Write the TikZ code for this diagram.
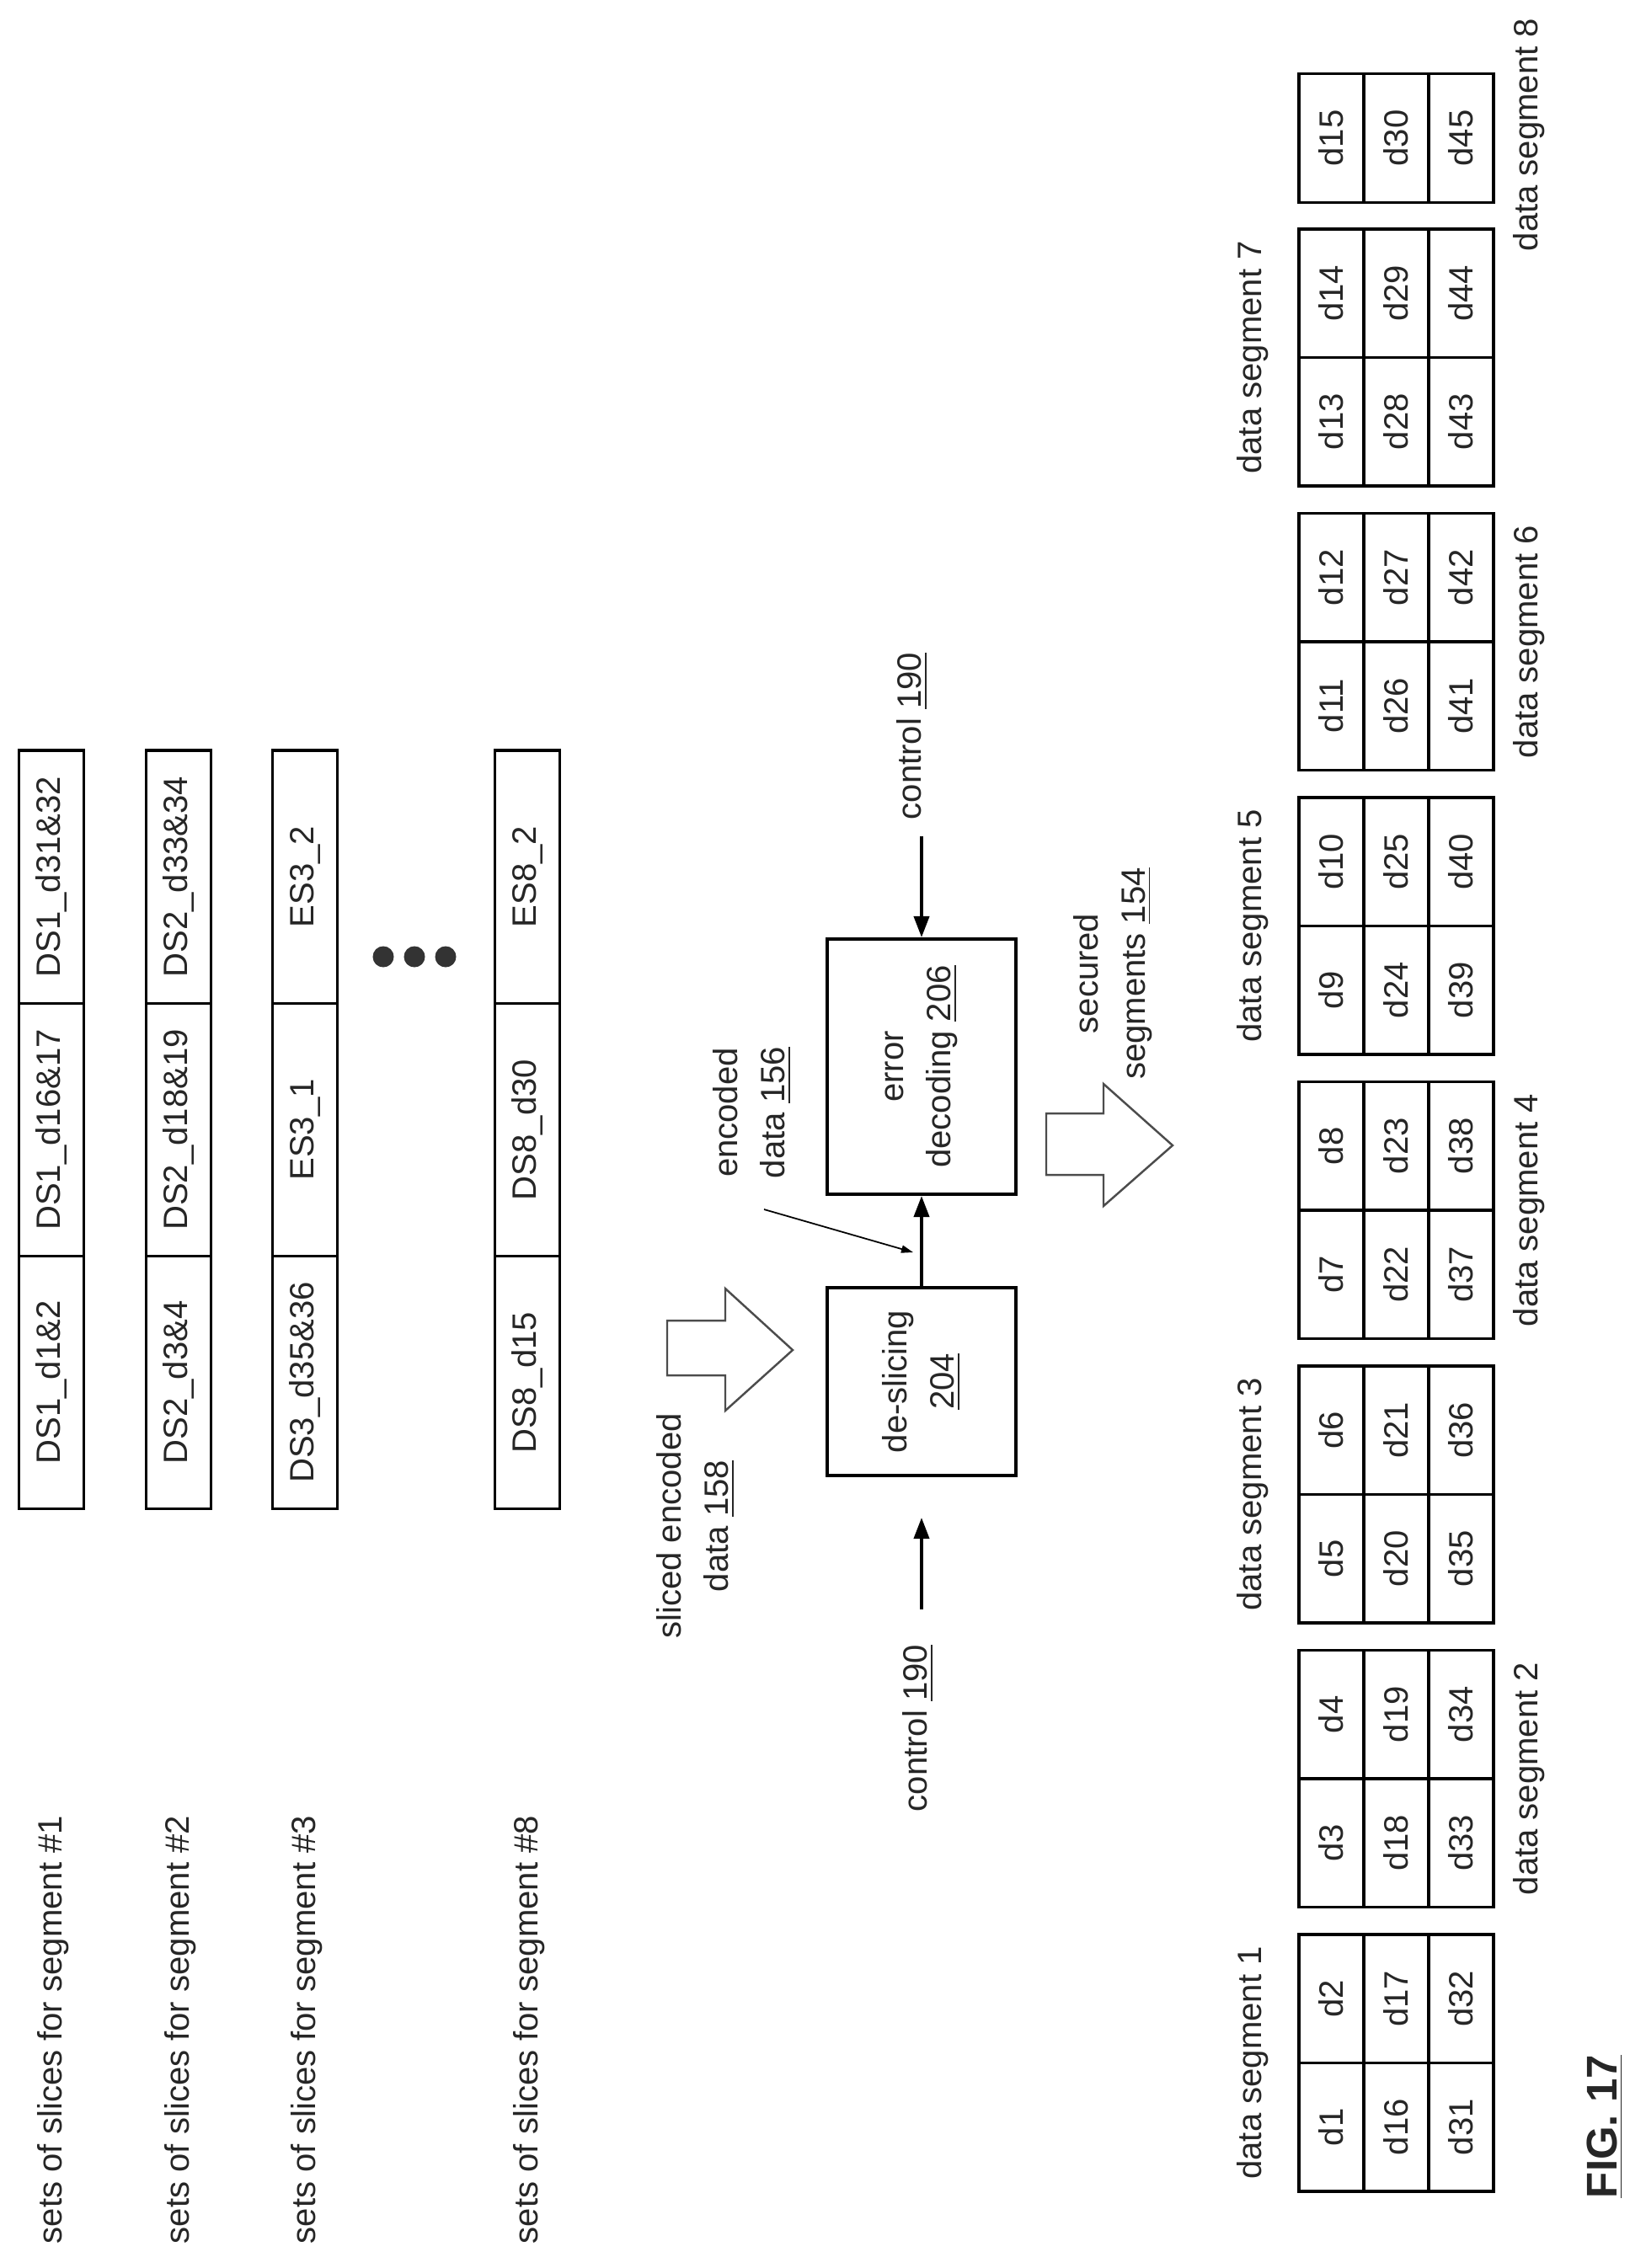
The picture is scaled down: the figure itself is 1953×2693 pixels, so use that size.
\documentclass[tikz,border=0pt]{standalone}
\usepackage{fontspec}
\setmainfont{Liberation Sans}
\usetikzlibrary{arrows.meta}
\begin{document}
\begin{tikzpicture}[x=0.01cm,y=-0.01cm,
  every node/.style={font=\fontsize{11.4}{15.9}\selectfont, rotate=90, text=black!85},
  cell/.style={draw, line width=0.9pt, inner sep=0pt, minimum height=0.77cm, minimum width=#1},
  cell/.default=3cm,
  box/.style={draw, line width=1.1pt, inner sep=0pt, align=center, minimum height=2.24cm},
  lbl/.style={inner sep=2pt, align=center},
  arr/.style={-{Triangle[length=0.25cm,width=0.18cm]}, line width=1.1pt},
  thin/.style={-{Triangle[length=0.14cm,width=0.09cm]}, line width=0.5pt},
  hollow/.style={draw=black!70, line width=0.7pt, fill=white},
  dot/.style={circle, fill=black!80, inner sep=0pt, minimum size=0.25cm}]
\useasboundingbox (0,0) rectangle (1953,2693);

% slice rows
\foreach \r/\x/\a/\b/\c in {1/61/DS1\_d1\&2/DS1\_d16\&17/DS1\_d31\&32,
                            2/212/DS2\_d3\&4/DS2\_d18\&19/DS2\_d33\&34,
                            3/362/DS3\_d35\&36/ES3\_1/ES3\_2,
                            8/626/DS8\_d15/DS8\_d30/ES8\_2}{
  \node[cell] (s\r a) at (\x,1641.5) {\a};
  \node[cell] (s\r b) at (\x,1341.5) {\b};
  \node[cell] (s\r c) at (\x,1041) {\c};
  \node[lbl, anchor=center] (sl\r) at (\x+2,2410) {sets of slices for segment \#\r};
}
\node[dot] (d1) at (455,1136) {};
\node[dot] (d2) at (492,1136) {};
\node[dot] (d3) at (529,1136) {};

% blocks
\node[box, minimum width=3.03cm] (es) at (1094,1266.5) {error\\decoding \underline{206}};
\node[box, minimum width=2.23cm] (ds) at (1094,1640.5) {de-slicing\\\underline{204}};
\node[lbl] (ctl1) at (1083,874) {control \underline{190}};
\node[lbl] (ctl2) at (1090,2052) {control \underline{190}};
\node[lbl] (enc) at (893,1321) {encoded\\data \underline{156}};
\node[lbl] (sed) at (826,1812) {sliced encoded\\data \underline{158}};
\node[lbl] (sec) at (1321,1156) {secured\\segments \underline{154}};

\draw[arr, shorten <=0.12cm] (ctl1.west -| es.center) -- (es.east);
\draw[arr, shorten <=0.34cm, shorten >=0.48cm] (ctl2.east -| ds.center) -- (ds.west);
\draw[arr] (ds) -- (es);
\coordinate (encS) at (907,1436);
\coordinate (encE) at (1084,1487);
\draw[thin] (encS) -- (encE);

% hollow arrows
\draw[hollow] (792,1568) -- (861,1568) -- (861,1530) -- (941,1603) -- (861,1675) -- (861,1633) -- (792,1633) -- cycle;
\draw[hollow] (1242,1322) -- (1310,1322) -- (1310,1287) -- (1392,1360) -- (1310,1432) -- (1310,1395) -- (1242,1395) -- cycle;

% data segment tables
\foreach \j in {1,...,7}{
  \pgfmathsetmacro{\B}{2602-(\j-1)*337.5}
  \foreach \r in {0,1,2}{
    \pgfmathtruncatemacro{\lo}{2*\j-1+15*\r}
    \pgfmathtruncatemacro{\hi}{2*\j+15*\r}
    \node[cell=1.525cm] (t\j-\r-a) at (1580.5+77*\r,\B-76.25) {d\lo};
    \node[cell=1.525cm] (t\j-\r-b) at (1580.5+77*\r,\B-228.75) {d\hi};
  }
  \pgfmathtruncatemacro{\odd}{mod(\j,2)}
  \ifnum\odd=1
    \node[lbl] (ds\j) at (1487,\B-152.5) {data segment \j};
  \else
    \node[lbl] (ds\j) at (1815,\B-152.5) {data segment \j};
  \fi
}
\foreach \r in {0,1,2}{
  \pgfmathtruncatemacro{\v}{15+15*\r}
  \node[cell=1.525cm] (t8-\r-a) at (1580.5+77*\r,164) {d\v};
}
\node[lbl] (ds8) at (1815,160) {data segment 8};

\node[lbl, font=\fontsize{14.5}{17}\selectfont\bfseries] (fig) at (1905,2525) {\underline{FIG. 17}};
\end{tikzpicture}
\end{document}
